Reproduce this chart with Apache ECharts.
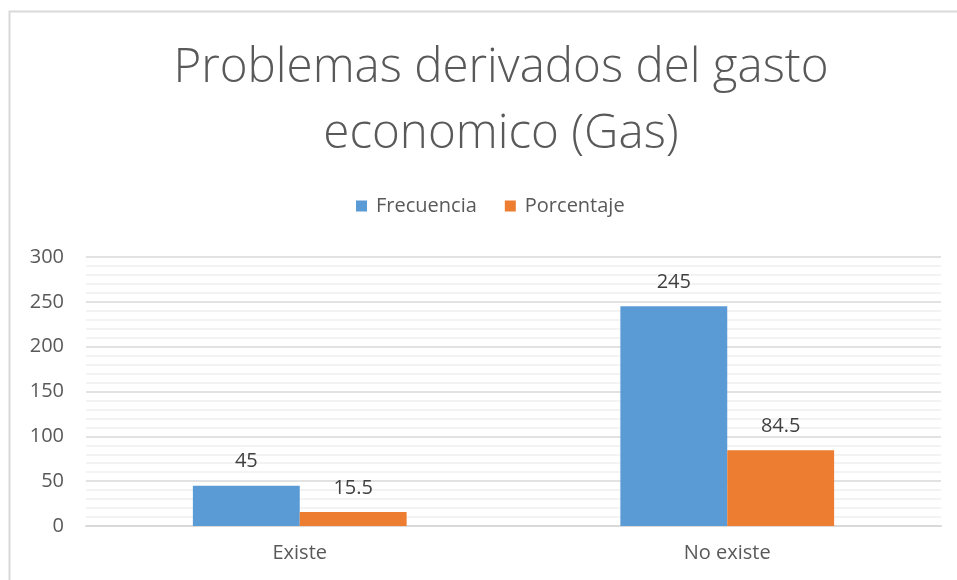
<!DOCTYPE html>
<html>
<head>
<meta charset="utf-8">
<script src="https://cdn.jsdelivr.net/npm/echarts@6/dist/echarts.min.js"></script>
<style>html,body{margin:0;padding:0;background:#fff;}#c{width:957px;height:580px;}</style>
</head>
<body>
<div id="c"></div>
<script>
const categories = ['Existe', 'No existe'];
const frecuencia = [45, 245];
const porcentaje = [15.5, 84.5];
const seriesNames = ['Frecuencia', 'Porcentaje'];
const titleText = 'Problemas derivados del gasto\neconomico (Gas)';

const chart = echarts.init(document.getElementById('c'));
const font = '"Open Sans", "Noto Sans", sans-serif';
const lbl = {show: true, position: 'top', distance: 14, color: '#404040', fontSize: 20, fontFamily: font};
chart.setOption({
  animation: false,
  title: {
    text: titleText, left: 496, textAlign: 'center', top: 30,
    textStyle: {fontSize: 47.5, lineHeight: 66, fontWeight: 300, color: '#595959', fontFamily: font}
  },
  legend: {
    top: 191, left: 351, itemWidth: 11, itemHeight: 11, itemGap: 28,
    icon: 'rect',
    textStyle: {fontSize: 20, color: '#595959', fontFamily: font, padding: [0, 0, 0, 4]}
  },
  graphic: [{type: 'rect', shape: {x: 9.5, y: 11.5, width: 1000, height: 1000},
    style: {fill: 'none', stroke: '#d9d9d9', lineWidth: 2}, silent: true}],
  grid: {left: 86, right: 16, top: 257, bottom: 54, containLabel: false},
  xAxis: {
    type: 'category', data: categories,
    axisLine: {lineStyle: {color: '#d9d9d9', width: 2}},
    axisTick: {show: false},
    axisLabel: {fontSize: 20, color: '#595959', margin: 17, fontFamily: font}
  },
  yAxis: {
    type: 'value', min: 0, max: 300, interval: 50,
    axisLine: {show: false}, axisTick: {show: false},
    axisLabel: {fontSize: 20, color: '#595959', margin: 22, fontFamily: font},
    splitLine: {lineStyle: {color: '#d9d9d9', width: 1.5}},
    minorTick: {show: false, splitNumber: 5},
    minorSplitLine: {show: true, lineStyle: {color: '#f0f0f0', width: 1.5}}
  },
  series: [
    {name: seriesNames[0], type: 'bar', data: frecuencia, barGap: '0%', barCategoryGap: '50%',
     itemStyle: {color: '#5b9bd5'}, label: lbl},
    {name: seriesNames[1], type: 'bar', data: porcentaje, barGap: '0%', barCategoryGap: '50%',
     itemStyle: {color: '#ed7d31'}, label: lbl}
  ]
});
</script>
</body>
</html>
